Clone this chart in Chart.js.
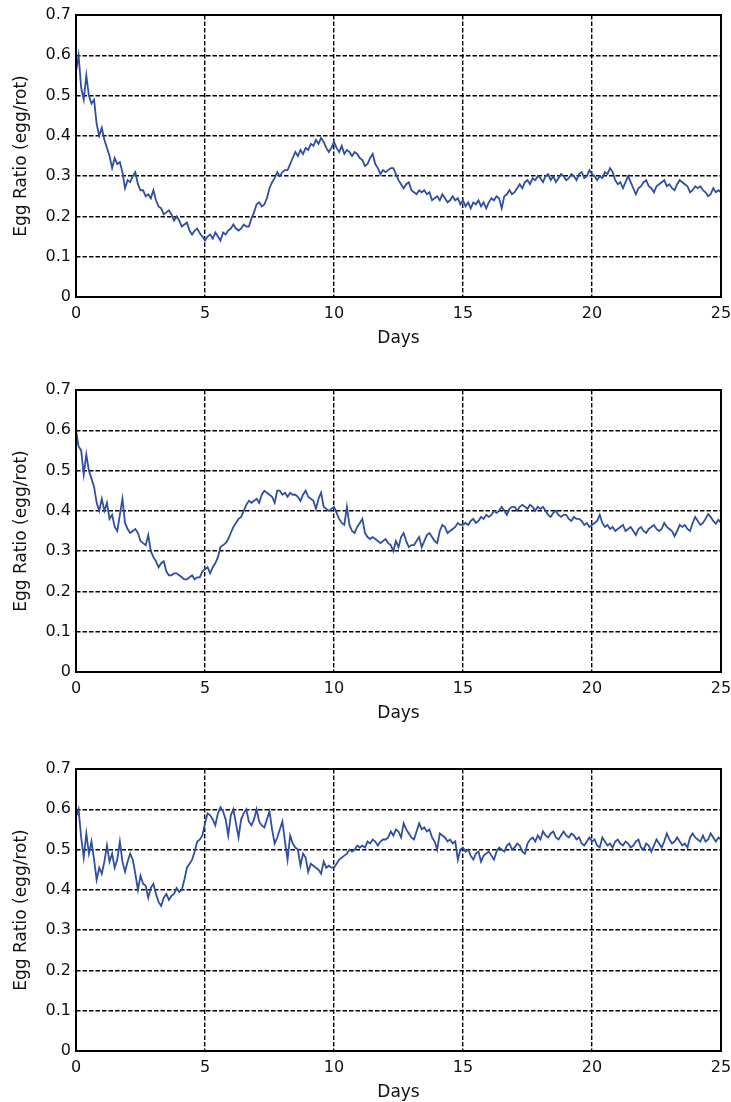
<!DOCTYPE html>
<html><head><meta charset="utf-8">
<script src="https://cdn.jsdelivr.net/npm/chart.js@4.4.1/dist/chart.umd.min.js"></script>
<style>
html,body{margin:0;padding:0;background:#fff;}
#wrap{position:relative;width:731px;height:1102px;overflow:hidden;}
.panel{position:absolute;left:0;width:731px;height:370px;}
canvas{display:block;}
</style></head><body>
<div id="wrap">
<div class="panel" style="top:0px"><canvas id="c1" width="731" height="370"></canvas></div>
<div class="panel" style="top:375px"><canvas id="c2" width="731" height="370"></canvas></div>
<div class="panel" style="top:754px"><canvas id="c3" width="731" height="370"></canvas></div>
</div>
<script>
// sampling grid (days), one sample every 0.1 day from 0 to 25
const STEP = 0.1;
const days = Array.from({length: 251}, (_, i) => +(i * STEP).toFixed(1));
const xTicks = [0, 5, 10, 15, 20, 25];
const yTicks = [0, 0.1, 0.2, 0.3, 0.4, 0.5, 0.6, 0.7];
const xTitle = 'Days';
const yTitle = 'Egg Ratio (egg/rot)';

const ratioTop = [
0.56,0.60,0.52,0.49,0.55,0.50,0.48,0.49,0.43,0.40,
0.42,0.39,0.37,0.35,0.32,0.345,0.33,0.335,0.31,0.27,
0.29,0.285,0.30,0.31,0.28,0.265,0.265,0.25,0.255,0.245,
0.265,0.24,0.225,0.22,0.205,0.21,0.215,0.205,0.19,0.20,
0.19,0.175,0.18,0.185,0.165,0.155,0.165,0.17,0.158,0.15,
0.14,0.15,0.155,0.145,0.16,0.15,0.14,0.16,0.155,0.165,
0.17,0.18,0.17,0.165,0.17,0.18,0.175,0.175,0.195,0.21,
0.23,0.235,0.225,0.23,0.245,0.27,0.285,0.295,0.31,0.30,
0.31,0.315,0.315,0.33,0.345,0.36,0.35,0.365,0.355,0.37,
0.365,0.38,0.375,0.39,0.38,0.395,0.385,0.37,0.36,0.37,
0.385,0.37,0.36,0.375,0.355,0.365,0.36,0.35,0.36,0.355,
0.345,0.34,0.325,0.33,0.345,0.355,0.33,0.32,0.305,0.315,
0.31,0.315,0.32,0.32,0.305,0.29,0.28,0.27,0.28,0.285,
0.265,0.26,0.255,0.265,0.26,0.265,0.255,0.26,0.24,0.245,
0.25,0.24,0.255,0.245,0.235,0.24,0.25,0.24,0.245,0.23,
0.24,0.225,0.235,0.22,0.235,0.23,0.24,0.225,0.235,0.22,
0.235,0.245,0.24,0.25,0.245,0.22,0.25,0.255,0.265,0.255,
0.26,0.27,0.28,0.27,0.285,0.29,0.28,0.295,0.29,0.30,
0.295,0.285,0.30,0.305,0.29,0.30,0.285,0.295,0.305,0.30,
0.29,0.295,0.305,0.30,0.29,0.305,0.31,0.295,0.30,0.315,
0.305,0.30,0.29,0.30,0.295,0.31,0.305,0.32,0.31,0.29,
0.28,0.285,0.27,0.285,0.30,0.285,0.27,0.255,0.27,0.275,
0.285,0.29,0.275,0.27,0.26,0.275,0.28,0.285,0.29,0.275,
0.28,0.27,0.265,0.28,0.29,0.285,0.28,0.275,0.26,0.265,
0.275,0.27,0.275,0.265,0.26,0.25,0.255,0.27,0.26,0.265,
0.26];

const ratioMiddle = [
0.60,0.56,0.55,0.49,0.54,0.50,0.48,0.46,0.42,0.40,
0.43,0.40,0.42,0.38,0.39,0.36,0.35,0.39,0.43,0.37,
0.355,0.345,0.35,0.355,0.345,0.325,0.32,0.315,0.34,0.30,
0.285,0.275,0.26,0.27,0.275,0.25,0.24,0.24,0.245,0.245,
0.24,0.235,0.23,0.23,0.235,0.24,0.23,0.235,0.235,0.25,
0.255,0.26,0.245,0.26,0.27,0.285,0.31,0.315,0.32,0.33,
0.345,0.36,0.37,0.38,0.385,0.40,0.415,0.425,0.42,0.425,
0.43,0.42,0.44,0.45,0.445,0.44,0.435,0.42,0.45,0.45,
0.44,0.445,0.435,0.445,0.44,0.44,0.435,0.425,0.44,0.45,
0.435,0.43,0.425,0.405,0.43,0.445,0.41,0.405,0.40,0.405,
0.41,0.395,0.38,0.37,0.365,0.41,0.365,0.35,0.345,0.36,
0.37,0.38,0.345,0.335,0.33,0.335,0.33,0.325,0.32,0.325,
0.33,0.32,0.315,0.30,0.325,0.31,0.335,0.345,0.325,0.31,
0.315,0.315,0.325,0.335,0.31,0.325,0.34,0.345,0.335,0.325,
0.32,0.35,0.365,0.36,0.345,0.35,0.355,0.36,0.37,0.365,
0.365,0.37,0.365,0.375,0.38,0.37,0.375,0.385,0.38,0.39,
0.385,0.39,0.40,0.395,0.40,0.41,0.40,0.39,0.405,0.41,
0.41,0.40,0.41,0.415,0.41,0.405,0.415,0.41,0.40,0.41,
0.405,0.41,0.40,0.39,0.385,0.395,0.40,0.39,0.385,0.39,
0.39,0.38,0.375,0.385,0.38,0.38,0.375,0.365,0.37,0.36,
0.365,0.37,0.375,0.39,0.37,0.36,0.365,0.355,0.36,0.35,
0.355,0.36,0.365,0.35,0.355,0.36,0.35,0.34,0.355,0.36,
0.35,0.345,0.355,0.36,0.365,0.355,0.35,0.355,0.37,0.36,
0.355,0.35,0.337,0.35,0.365,0.36,0.365,0.355,0.35,0.37,
0.385,0.375,0.365,0.37,0.38,0.392,0.385,0.375,0.368,0.378,
0.37];

const ratioBottom = [
0.58,0.60,0.53,0.48,0.54,0.49,0.52,0.475,0.425,0.455,
0.44,0.47,0.51,0.47,0.49,0.455,0.475,0.52,0.47,0.445,
0.47,0.49,0.475,0.44,0.40,0.435,0.415,0.41,0.38,0.405,
0.415,0.39,0.37,0.36,0.38,0.39,0.375,0.385,0.39,0.405,
0.395,0.40,0.425,0.455,0.465,0.475,0.495,0.52,0.525,0.535,
0.565,0.59,0.585,0.575,0.56,0.59,0.605,0.595,0.575,0.535,
0.585,0.60,0.565,0.53,0.575,0.59,0.60,0.57,0.56,0.575,
0.60,0.57,0.56,0.555,0.575,0.595,0.55,0.515,0.53,0.55,
0.57,0.52,0.475,0.535,0.515,0.505,0.50,0.46,0.49,0.48,
0.445,0.465,0.46,0.455,0.45,0.44,0.47,0.455,0.46,0.455,
0.455,0.465,0.475,0.48,0.485,0.49,0.50,0.495,0.50,0.51,
0.505,0.51,0.505,0.52,0.515,0.525,0.52,0.51,0.52,0.525,
0.525,0.53,0.545,0.535,0.55,0.545,0.53,0.565,0.55,0.54,
0.53,0.525,0.545,0.565,0.55,0.555,0.545,0.55,0.53,0.52,
0.50,0.54,0.535,0.53,0.52,0.525,0.515,0.52,0.475,0.50,
0.505,0.495,0.50,0.485,0.475,0.49,0.495,0.47,0.485,0.49,
0.495,0.485,0.475,0.495,0.505,0.50,0.495,0.51,0.515,0.50,
0.505,0.515,0.51,0.495,0.49,0.515,0.525,0.53,0.52,0.535,
0.525,0.545,0.535,0.53,0.54,0.545,0.53,0.525,0.535,0.545,
0.535,0.53,0.54,0.535,0.525,0.53,0.515,0.51,0.52,0.53,
0.52,0.525,0.51,0.505,0.53,0.52,0.51,0.515,0.505,0.52,
0.525,0.515,0.51,0.52,0.515,0.505,0.51,0.52,0.525,0.505,
0.50,0.515,0.51,0.495,0.51,0.525,0.515,0.505,0.52,0.54,
0.525,0.515,0.52,0.53,0.52,0.51,0.515,0.505,0.53,0.54,
0.53,0.525,0.52,0.535,0.52,0.525,0.54,0.53,0.52,0.53,
0.525];

Chart.defaults.font.family = "'DejaVu Sans', sans-serif";

const framePlugin = {
  id: 'frame',
  afterDraw(chart) {
    const {ctx, chartArea: a} = chart;
    ctx.save();
    ctx.strokeStyle = '#000';
    ctx.lineWidth = 2;
    ctx.strokeRect(a.left, a.top, a.right - a.left, a.bottom - a.top);
    ctx.restore();
  }
};

function makeChart(id, series) {
  const gridCfg = {color: '#000', lineWidth: 1.4, drawTicks: false};
  const borderCfg = {display: false, dash: [4.5, 2]};
  new Chart(document.getElementById(id), {
    type: 'line',
    data: {
      datasets: [{
        data: days.map((d, i) => ({x: d, y: series[i]})),
        borderColor: '#2f4fa3',
        borderWidth: 1.8,
        pointRadius: 0,
        tension: 0,
        fill: false
      }]
    },
    options: {
      responsive: false,
      animation: false,
      events: [],
      layout: {padding: {top: 15, right: 10, left: 0, bottom: 0}},
      plugins: {legend: {display: false}, tooltip: {enabled: false}},
      scales: {
        x: {
          type: 'linear',
          min: xTicks[0], max: xTicks[xTicks.length - 1],
          afterBuildTicks(s) { s.ticks = xTicks.map(v => ({value: v})); },
          ticks: {padding: 7, color: '#111', font: {size: 16}, maxRotation: 0,
                  callback: v => String(v)},
          grid: gridCfg,
          border: borderCfg,
          title: {display: true, text: xTitle, color: '#111', font: {size: 17},
                  padding: {top: 0, bottom: 21}},
          afterFit(s) { s.height = 73; s.paddingLeft = 0; s.paddingRight = 0; }
        },
        y: {
          min: yTicks[0], max: yTicks[yTicks.length - 1],
          afterBuildTicks(s) { s.ticks = yTicks.map(v => ({value: v})); },
          ticks: {padding: 5, color: '#111', font: {size: 16},
                  callback: v => (v === 0 ? '0' : v.toFixed(1))},
          grid: gridCfg,
          border: borderCfg,
          title: {display: true, text: yTitle, color: '#111', font: {size: 17},
                  padding: {top: 11, bottom: 0}},
          afterFit(s) { s.width = 76; s.paddingTop = 0; s.paddingBottom = 0; }
        }
      }
    },
    plugins: [framePlugin]
  });
}

makeChart('c1', ratioTop);
makeChart('c2', ratioMiddle);
makeChart('c3', ratioBottom);
</script>
</body></html>
